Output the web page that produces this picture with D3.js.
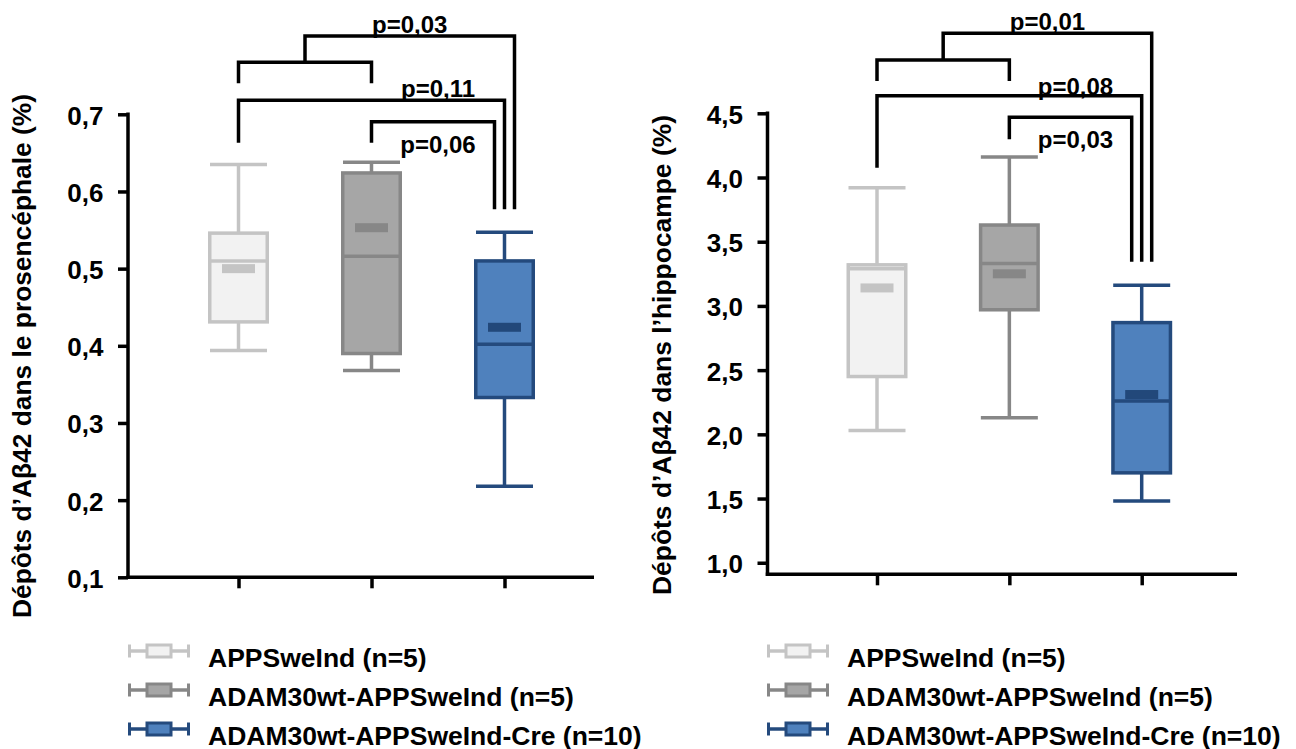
<!DOCTYPE html>
<html><head><meta charset="utf-8">
<script src="https://cdn.jsdelivr.net/npm/d3@7"></script>
<style>
html,body{margin:0;padding:0;background:#fff;}
svg{display:block;}
text{font-family:"Liberation Sans",Arial,sans-serif;font-weight:bold;fill:#000;}
</style></head>
<body>
<svg id="chart" width="1296" height="749"></svg>
<script>
// ---------- data ----------
const groups = ["APPSweInd (n=5)", "ADAM30wt-APPSweInd (n=5)", "ADAM30wt-APPSweInd-Cre (n=10)"];

// Forebrain (prosencéphale)
const fbMin    = [0.394, 0.368, 0.218];
const fbQ1     = [0.431, 0.390, 0.333];
const fbMedian = [0.510, 0.516, 0.402];
const fbQ3     = [0.546, 0.624, 0.510];
const fbMax    = [0.635, 0.638, 0.547];
const fbMean   = [0.500, 0.553, 0.424];
const fbTicks  = [0.1, 0.2, 0.3, 0.4, 0.5, 0.6, 0.7];
const fbTickLabels = ["0,1", "0,2", "0,3", "0,4", "0,5", "0,6", "0,7"];
const fbTitle  = "Dépôts d’Aβ42 dans le prosencéphale (%)";
const fbPLabels = ["p=0,03", "p=0,11", "p=0,06"];

// Hippocampus
const hpMin    = [2.03, 2.13, 1.48];
const hpQ1     = [2.45, 2.97, 1.70];
const hpMedian = [3.29, 3.33, 2.26];
const hpQ3     = [3.32, 3.63, 2.87];
const hpMax    = [3.92, 4.16, 3.16];
const hpMean   = [3.14, 3.25, 2.31];
const hpTicks  = [1.0, 1.5, 2.0, 2.5, 3.0, 3.5, 4.0, 4.5];
const hpTickLabels = ["1,0", "1,5", "2,0", "2,5", "3,0", "3,5", "4,0", "4,5"];
const hpTitle  = "Dépôts d’Aβ42 dans l’hippocampe (%)";
const hpPLabels = ["p=0,01", "p=0,08", "p=0,03"];

// ---------- styles ----------
const fills   = ["#f2f2f2", "#a6a6a6", "#4f81bd"];
const strokes = ["#c4c4c4", "#878787", "#244a7d"];
const meanCol = ["#c4c4c4", "#878787", "#22487a"];

const svg = d3.select("#chart");

function panel(cfg) {
  const g = svg.append("g");
  const y = d3.scaleLinear().domain(cfg.domain).range([cfg.bottom, cfg.top]);
  const x = d3.scalePoint().domain(d3.range(3)).range(cfg.xRange);

  // y axis
  const yAxis = d3.axisLeft(y).tickValues(cfg.ticks).tickSize(10)
    .tickFormat((d, i) => cfg.tickLabels[i]).tickSizeOuter(0);
  const ya = g.append("g").attr("transform", `translate(${cfg.left},0)`).call(yAxis);
  ya.select(".domain").attr("stroke", "#000").attr("stroke-width", 3.5)
    .attr("d", `M0,${y(cfg.ticks[cfg.ticks.length - 1]) - 1.75}V${cfg.bottom + 1.75}`);
  ya.selectAll(".tick line").attr("stroke", "#000").attr("stroke-width", 3.5);
  ya.selectAll(".tick text").attr("x", -24.5).attr("dy", "0.38em")
    .style("font-size", "26px").style("font-family", '"Liberation Sans",Arial,sans-serif')
    .style("font-weight", "bold").attr("fill", "#000");

  // x axis
  const xAxis = d3.axisBottom(x).tickSize(11).tickFormat("").tickSizeOuter(0);
  const xa = g.append("g").attr("transform", `translate(0,${cfg.bottom})`).call(xAxis);
  xa.select(".domain").attr("stroke", "#000").attr("stroke-width", 3.5)
    .attr("d", `M${cfg.left - 1.75},0H${cfg.right}`);
  xa.selectAll(".tick line").attr("stroke", "#000").attr("stroke-width", 3.5);

  // y title
  g.append("text")
    .attr("transform", `translate(${cfg.titleX},${cfg.titleY}) rotate(-90)`)
    .attr("text-anchor", "middle").style("font-size", "26px").text(cfg.title)
    .attr("textLength", cfg.titleLen).attr("lengthAdjust", "spacingAndGlyphs");

  // boxes
  const bw = 57.5, cw = 57, mw = 33, mh = 9;
  d3.range(3).forEach(i => {
    const cx = x(i);
    const bx = g.append("g");
    bx.append("line").attr("x1", cx).attr("x2", cx).attr("y1", y(cfg.max[i])).attr("y2", y(cfg.q3[i]))
      .attr("stroke", strokes[i]).attr("stroke-width", 3.5);
    bx.append("line").attr("x1", cx).attr("x2", cx).attr("y1", y(cfg.q1[i])).attr("y2", y(cfg.min[i]))
      .attr("stroke", strokes[i]).attr("stroke-width", 3.5);
    [cfg.max[i], cfg.min[i]].forEach(v => {
      bx.append("line").attr("x1", cx - cw / 2).attr("x2", cx + cw / 2).attr("y1", y(v)).attr("y2", y(v))
        .attr("stroke", strokes[i]).attr("stroke-width", 3.5);
    });
    bx.append("rect").attr("x", cx - bw / 2).attr("width", bw)
      .attr("y", y(cfg.q3[i])).attr("height", y(cfg.q1[i]) - y(cfg.q3[i]))
      .attr("fill", fills[i]).attr("stroke", strokes[i]).attr("stroke-width", 3.5);
    bx.append("line").attr("x1", cx - bw / 2).attr("x2", cx + bw / 2)
      .attr("y1", y(cfg.median[i])).attr("y2", y(cfg.median[i]))
      .attr("stroke", strokes[i]).attr("stroke-width", 3.5);
    bx.append("rect").attr("x", cx - mw / 2).attr("width", mw)
      .attr("y", y(cfg.mean[i]) - mh / 2).attr("height", mh).attr("fill", meanCol[i]);
  });

  // significance brackets (levels in data units)
  const L = cfg.levels;
  const bg = g.append("g").attr("fill", "none").attr("stroke", "#000").attr("stroke-width", 3.5)
    .attr("stroke-linejoin", "miter").attr("stroke-linecap", "butt");
  const path = pts => bg.append("path").attr("d", d3.line()(pts));
  const x0 = x(0), x1 = x(1), x2 = x(2), mid01 = (x0 + x1) / 2;
  path([[x0, y(L.aLeg)], [x0, y(L.a)], [x1, y(L.a)], [x1, y(L.aLeg)]]);
  path([[mid01, y(L.a)], [mid01, y(L.b)], [x2 + 10, y(L.b)], [x2 + 10, y(L.rightLeg)]]);
  path([[x0, y(L.cLeg)], [x0, y(L.c)], [x2, y(L.c)], [x2, y(L.rightLeg)]]);
  path([[x1, y(L.dLeg)], [x1, y(L.d)], [x2 - 10, y(L.d)], [x2 - 10, y(L.rightLeg)]]);

  const mid12 = (x1 + x2) / 2;
  const lab = (txt, lx, ly) => g.append("text").attr("x", lx).attr("y", ly).attr("text-anchor", "middle")
    .style("font-size", "24px").text(txt);
  lab(cfg.pLabels[0], (mid01 + x2 + 10) / 2, y(L.b) - 3);
  lab(cfg.pLabels[1], mid12, y(L.c) - cfg.p2off);
  lab(cfg.pLabels[2], mid12, y(L.d) + 31);

  // legend
  cfg.legendRows.forEach((ry, i) => {
    const lx = cfg.legendX;
    const lg = g.append("g");
    lg.append("line").attr("x1", lx).attr("x2", lx + 62).attr("y1", ry).attr("y2", ry)
      .attr("stroke", strokes[i]).attr("stroke-width", 3.5);
    [lx + 1.5, lx + 60.5].forEach(ex => lg.append("line").attr("x1", ex).attr("x2", ex)
      .attr("y1", ry - 6.5).attr("y2", ry + 6.5).attr("stroke", strokes[i]).attr("stroke-width", 3));
    lg.append("rect").attr("x", lx + 19).attr("y", ry - 6).attr("width", 24).attr("height", 12)
      .attr("fill", fills[i]).attr("stroke", strokes[i]).attr("stroke-width", 3);
    lg.append("text").attr("x", lx + 80).attr("y", ry + 15.5).style("font-size", "26.5px").text(groups[i]);
  });
}

panel({
  domain: [0.1, 0.7], top: 114.3, bottom: 577.3, left: 128, right: 594,
  xRange: [238.5, 504.5], ticks: fbTicks, tickLabels: fbTickLabels,
  min: fbMin, q1: fbQ1, median: fbMedian, q3: fbQ3, max: fbMax, mean: fbMean,
  title: fbTitle, titleX: 31, titleY: 356, titleLen: 524,
  pLabels: fbPLabels, p2off: 3.5,
  levels: { a: 0.7674, aLeg: 0.7402, b: 0.8014, c: 0.7183, cLeg: 0.6632, d: 0.6904, dLeg: 0.6632, rightLeg: 0.5769 },
  legendX: 128, legendRows: [651, 690, 729]
});

panel({
  domain: [0.91, 4.5], top: 113.3, bottom: 574.3, left: 767.5, right: 1237,
  xRange: [877, 1141.7], ticks: hpTicks, tickLabels: hpTickLabels,
  min: hpMin, q1: hpQ1, median: hpMedian, q3: hpQ3, max: hpMax, mean: hpMean,
  title: hpTitle, titleX: 671, titleY: 355, titleLen: 480,
  pLabels: hpPLabels, p2off: 0.5,
  levels: { a: 4.915, aLeg: 4.752, b: 5.123, c: 4.637, cLeg: 4.076, d: 4.469, dLeg: 4.297, rightLeg: 3.344 },
  legendX: 767, legendRows: [651, 690, 729]
});
</script>
</body></html>
